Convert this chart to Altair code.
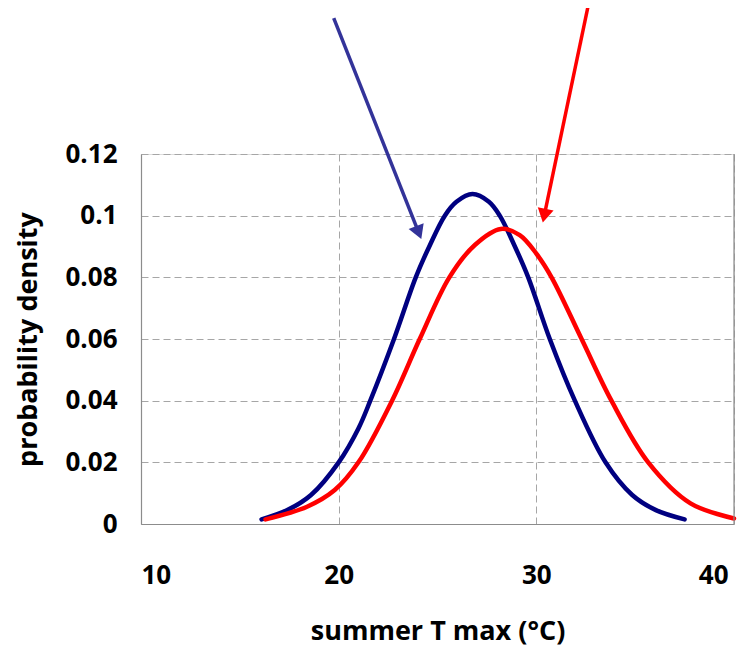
import altair as alt
import pandas as pd

# present-day (blue) and future (red) summer Tmax probability densities
blue_x = [16.1, 17.4, 18.6, 20.0, 21.0, 21.6, 22.8, 23.9, 24.62, 25.37, 25.96, 26.77, 27.6, 28.15, 28.88, 29.59, 30.68, 31.95, 33.5, 34.85, 36.05, 37.5]
blue_y = [0.0015, 0.0045, 0.0094, 0.020, 0.031, 0.040, 0.060, 0.080, 0.0905, 0.100, 0.1045, 0.1070, 0.1045, 0.100, 0.0905, 0.080, 0.060, 0.040, 0.020, 0.0094, 0.0045, 0.0015]

red_x = [16.3, 18.4, 19.8, 21.0, 22.7, 24.1, 25.6, 26.89, 28.2, 29.16, 30.0, 30.77, 32.29, 33.8, 35.66, 37.8, 40.0]
red_y = [0.0015, 0.0056, 0.011, 0.020, 0.040, 0.060, 0.080, 0.0905, 0.0957, 0.0937, 0.0877, 0.080, 0.060, 0.040, 0.020, 0.0067, 0.0018]

# annotation arrows (start and head, in data units)
arrow_name = ["blue", "red"]
arrow_x0 = [19.75, 32.61]
arrow_y0 = [0.1641, 0.1677]
arrow_x1 = [24.05, 30.40]
arrow_y1 = [0.0945, 0.1000]
arrow_angle = [158.4, 191.8]

x_ticks = [10, 20, 30, 40]
y_ticks = [0, 0.02, 0.04, 0.06, 0.08, 0.10, 0.12]

curves = pd.concat([
    pd.DataFrame({"x": blue_x, "y": blue_y, "s": "blue"}),
    pd.DataFrame({"x": red_x, "y": red_y, "s": "red"}),
])
arrows = pd.DataFrame({"s": arrow_name, "x0": arrow_x0, "y0": arrow_y0,
                       "x1": arrow_x1, "y1": arrow_y1, "angle": arrow_angle})

FONT = "Open Sans"
xscale = alt.Scale(domain=[10, 40], nice=False, zero=False)
yscale = alt.Scale(domain=[0, 0.12], nice=False)

xaxis = alt.Axis(values=x_ticks, title="summer T max (°C)", format="d",
                 ticks=False, labelPadding=38, labelFontSize=26, labelFontWeight="bold",
                 labelFont=FONT, labelColor="black",
                 labelOffset={"condition": {"test": "datum.value == 40", "value": -6}, "value": 0},
                 titleFont=FONT, titleFontSize=27, titleFontWeight="bold", titleColor="black",
                 titleY=107, titleBaseline="middle",
                 grid=True, gridColor="#a6a6a6", gridDash=[7, 4], gridWidth=1,
                 domainColor="#8c8c8c", domainWidth=1.2)
yaxis = alt.Axis(values=y_ticks, title="probability density", format=".2~f",
                 ticks=False, labelPadding=24, labelFontSize=26, labelFontWeight="bold",
                 labelFont=FONT, labelColor="black",
                 titleFont=FONT, titleFontSize=27, titleFontWeight="bold", titleColor="black",
                 titleX=-113, titleY=185, titleAngle=270, titleAlign="center", titleBaseline="middle",
                 grid=True, gridColor="#a6a6a6", gridDash=[7, 4], gridWidth=1,
                 domainColor="#8c8c8c", domainWidth=1.2)

line_colors = alt.Scale(domain=["blue", "red"], range=["#000080", "#ff0000"])
arrow_colors = alt.Scale(domain=["blue", "red"], range=["#333399", "#ff0000"])

lines = alt.Chart(curves).mark_line(strokeWidth=4.5, interpolate="catmull-rom", strokeCap="round").encode(
    x=alt.X("x:Q", scale=xscale, axis=xaxis),
    y=alt.Y("y:Q", scale=yscale, axis=yaxis),
    color=alt.Color("s:N", scale=line_colors, legend=None),
    detail="s:N",
)

border = alt.Chart(pd.DataFrame({"x": [40]})).mark_rule(color="#8c8c8c", strokeWidth=1.2).encode(
    x=alt.X("x:Q", scale=xscale)
)

shafts = alt.Chart(arrows).mark_rule(strokeWidth=3.5, clip=False).encode(
    x=alt.X("x0:Q", scale=xscale),
    y=alt.Y("y0:Q", scale=yscale),
    x2="x1:Q",
    y2="y1:Q",
    color=alt.Color("s:N", scale=arrow_colors, legend=None),
)

heads = alt.Chart(arrows).mark_point(shape="triangle-up", filled=True, size=260, opacity=1, clip=False).encode(
    x=alt.X("x1:Q", scale=xscale),
    y=alt.Y("y1:Q", scale=yscale),
    angle=alt.Angle("angle:Q", scale=None),
    color=alt.Color("s:N", scale=arrow_colors, legend=None),
)

chart = alt.layer(lines, border, shafts, heads).resolve_scale(color="independent").properties(
    width=593, height=370,
    autosize=alt.AutoSizeParams(type="none"),
    padding={"left": 133, "top": 146, "right": 9, "bottom": 122},
).configure_view(stroke=None).configure(background="white")

chart.save("out.html", embed_options={"renderer": "svg", "actions": False})
